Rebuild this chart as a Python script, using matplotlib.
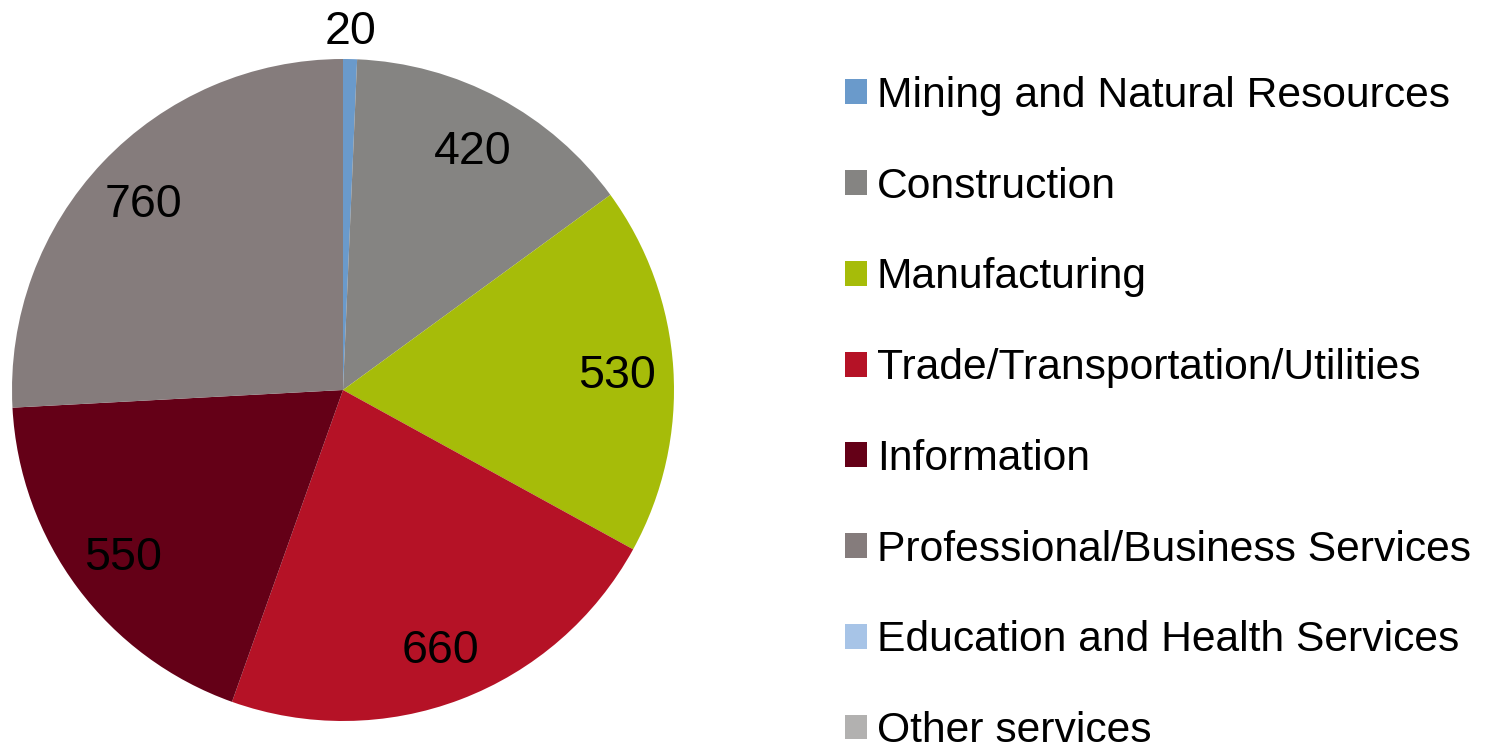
import numpy as np
import matplotlib.pyplot as plt

plt.rcParams['font.family'] = ['Liberation Sans', 'DejaVu Sans']

sectors = ['Mining and Natural Resources', 'Construction', 'Manufacturing',
           'Trade/Transportation/Utilities', 'Information',
           'Professional/Business Services', 'Education and Health Services',
           'Other services']
values = [20, 420, 530, 660, 550, 760, 0, 0]
colors = ['#6A9ACB', '#858482', '#A6BC09', '#B51226', '#640017',
          '#857C7C', '#A7C4E7', '#B2B1B0']

W, H = 1487, 745
fig = plt.figure(figsize=(W / 100, H / 100), dpi=100)

# pie centre and radius in pixels
cx, cy, r = 343, 390, 331
ax = fig.add_axes([(cx - r) / W, (H - cy - r) / H, 2 * r / W, 2 * r / H])

wedges, _ = ax.pie(values, colors=colors, startangle=90, counterclock=False,
                   radius=1, wedgeprops=dict(linewidth=0))
ax.set_xlim(-1, 1)
ax.set_ylim(-1, 1)
ax.set_aspect('equal')
ax.axis('off')

for w, v in zip(wedges, values):
    if v == 0:
        continue
    ang = np.deg2rad((w.theta1 + w.theta2) / 2)
    d = 1.095 if v < 50 else 0.83
    ax.text(d * np.cos(ang), d * np.sin(ang) - 0.012, str(v), ha='center',
            va='center', fontsize=33.5, color='black')

fig.legend(wedges, sectors, loc='upper left', bbox_to_anchor=(845 / W, 1 - 76 / H),
           frameon=False, fontsize=30.7, handlelength=0.52, handleheight=0.52,
           handletextpad=0.23, labelspacing=1.19, borderaxespad=0, borderpad=0)

fig.savefig('out.png', dpi=100)
